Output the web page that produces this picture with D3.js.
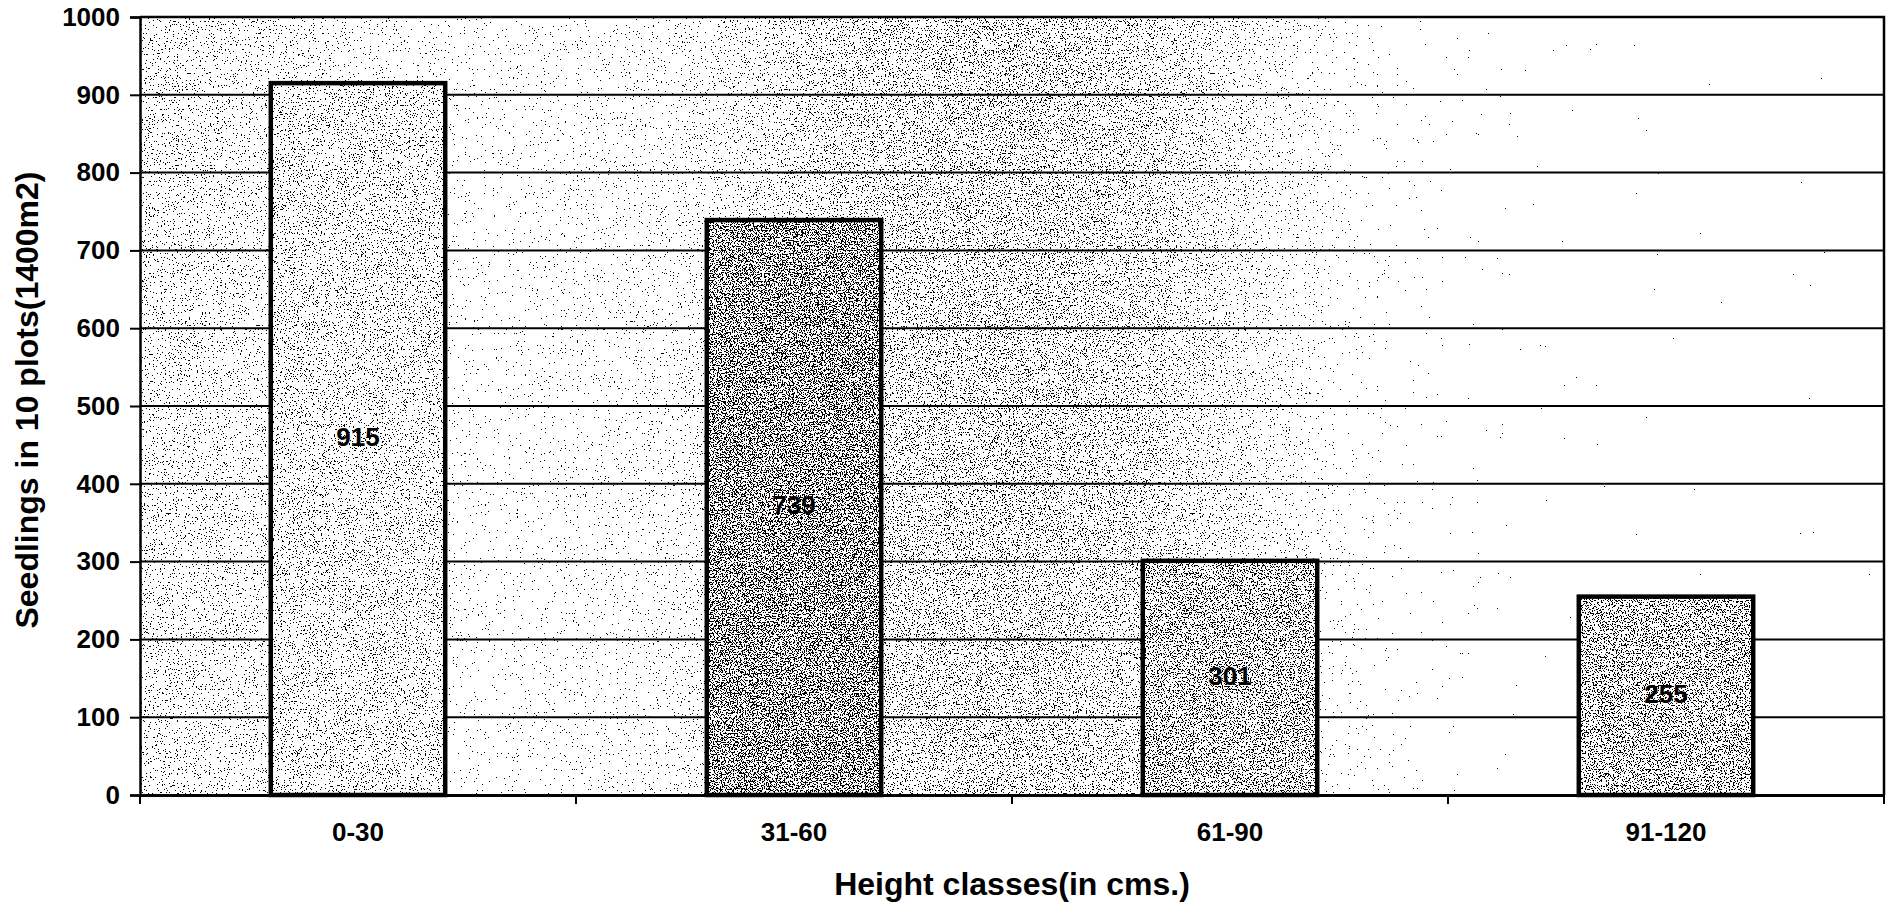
<!DOCTYPE html>
<html>
<head>
<meta charset="utf-8">
<script src="https://cdn.jsdelivr.net/npm/d3@7"></script>
<style>
  body { margin: 0; background: #fff; }
  svg text { font-family: "Liberation Sans", Arial, sans-serif; font-weight: bold; fill: #000; }
</style>
</head>
<body>
<div id="chart"></div>
<script>
// data
var categories = ["0-30", "31-60", "61-90", "91-120"];
var seedlings = [915, 739, 301, 255];
var yTicks = [0, 100, 200, 300, 400, 500, 600, 700, 800, 900, 1000];
var yTitle = "Seedlings in 10 plots(1400m2)";
var xTitle = "Height classes(in cms.)";

// stipple density per bar (style only)
var barShade = [0.35, 0.47, 0.42, 0.42];

var width = 1890, height = 904;
var plot = {left: 140, right: 1884, top: 17, bottom: 795};

var svg = d3.select("#chart").append("svg")
    .attr("width", width)
    .attr("height", height);

var defs = svg.append("defs");

// stipple filter: noise + source alpha, thresholded into black dots
var f = defs.append("filter")
    .attr("id", "stipple")
    .attr("x", 0).attr("y", 0).attr("width", 1).attr("height", 1)
    .attr("color-interpolation-filters", "sRGB");
f.append("feTurbulence")
    .attr("type", "fractalNoise")
    .attr("baseFrequency", 0.75)
    .attr("numOctaves", 2)
    .attr("seed", 7)
    .attr("result", "noise");
f.append("feColorMatrix")
    .attr("in", "noise")
    .attr("type", "matrix")
    .attr("values", "0 0 0 0 0  0 0 0 0 0  0 0 0 0 0  1 0 0 0 0")
    .attr("result", "na");
f.append("feComposite")
    .attr("in", "na")
    .attr("in2", "SourceAlpha")
    .attr("operator", "arithmetic")
    .attr("k1", 0).attr("k2", 1).attr("k3", 1).attr("k4", -0.5)
    .attr("result", "sum");
var ct = f.append("feComponentTransfer").attr("in", "sum").attr("result", "dots");
ct.append("feFuncA").attr("type", "discrete").attr("tableValues", "0 1");
f.append("feColorMatrix")
    .attr("in", "dots")
    .attr("type", "matrix")
    .attr("values", "0 0 0 0 0  0 0 0 0 0  0 0 0 0 0  0 0 0 1 0");

// background density, heavier on the left and middle, sparse on the right
var bg = defs.append("linearGradient").attr("id", "bgDensity")
    .attr("x1", 0).attr("x2", 1).attr("y1", 0).attr("y2", 0);
[[0, 0.33], [0.1, 0.31], [0.2, 0.26], [0.3, 0.29], [0.4, 0.36], [0.5, 0.38],
 [0.58, 0.36], [0.66, 0.29], [0.72, 0.21], [0.8, 0.15], [1, 0.12]].forEach(function(s){
    bg.append("stop").attr("offset", s[0]).attr("stop-color", "#000").attr("stop-opacity", s[1]);
});

var x = d3.scaleBand()
    .domain(categories)
    .range([plot.left, plot.right])
    .paddingInner(0.6)
    .paddingOuter(0.3);

var y = d3.scaleLinear()
    .domain([0, 1000])
    .range([plot.bottom, plot.top]);

// plot background
svg.append("rect")
    .attr("x", plot.left).attr("y", plot.top)
    .attr("width", plot.right - plot.left).attr("height", plot.bottom - plot.top)
    .attr("fill", "#fff");
svg.append("rect")
    .attr("x", plot.left).attr("y", plot.top)
    .attr("width", plot.right - plot.left).attr("height", plot.bottom - plot.top)
    .attr("fill", "url(#bgDensity)")
    .attr("filter", "url(#stipple)");

// gridlines
svg.append("g")
    .selectAll("line")
    .data(yTicks.filter(function(d){ return d > 0 && d < 1000; }))
    .join("line")
    .attr("x1", plot.left).attr("x2", plot.right)
    .attr("y1", function(d){ return y(d); })
    .attr("y2", function(d){ return y(d); })
    .attr("stroke", "#000")
    .attr("stroke-width", 2);

// plot frame (top and right)
svg.append("path")
    .attr("d", "M" + plot.left + "," + y(1000) + "H" + plot.right + "V" + plot.bottom)
    .attr("fill", "none")
    .attr("stroke", "#000")
    .attr("stroke-width", 2.5);

// bars
var bars = svg.append("g").selectAll("g")
    .data(seedlings)
    .join("g");

bars.append("rect")
    .attr("x", function(d, i){ return x(categories[i]); })
    .attr("y", function(d){ return y(d); })
    .attr("width", x.bandwidth())
    .attr("height", function(d){ return y(0) - y(d); })
    .attr("fill", "#fff");

bars.append("rect")
    .attr("x", function(d, i){ return x(categories[i]); })
    .attr("y", function(d){ return y(d); })
    .attr("width", x.bandwidth())
    .attr("height", function(d){ return y(0) - y(d); })
    .attr("fill", "#000")
    .attr("fill-opacity", function(d, i){ return barShade[i]; })
    .attr("filter", "url(#stipple)");

bars.append("rect")
    .attr("x", function(d, i){ return x(categories[i]); })
    .attr("y", function(d){ return y(d); })
    .attr("width", x.bandwidth())
    .attr("height", function(d){ return y(0) - y(d); })
    .attr("fill", "none")
    .attr("stroke", "#000")
    .attr("stroke-width", 4.5);

bars.append("text")
    .attr("x", function(d, i){ return x(categories[i]) + x.bandwidth() / 2; })
    .attr("y", function(d){ return (y(d) + y(0)) / 2; })
    .attr("text-anchor", "middle")
    .attr("dominant-baseline", "middle")
    .style("font-size", "26px")
    .text(function(d){ return d; });

// y axis
var yAxis = svg.append("g")
    .attr("transform", "translate(" + plot.left + ",0)")
    .call(d3.axisLeft(y).tickValues(yTicks).tickFormat(d3.format("d")).tickSize(10).tickPadding(10));
yAxis.select(".domain").attr("stroke", "#000").attr("stroke-width", 2.5);
yAxis.selectAll(".tick line").attr("stroke", "#000").attr("stroke-width", 2);
yAxis.selectAll("text").style("font-size", "26px").attr("font-family", null);

// x axis
var xAxis = svg.append("g")
    .attr("transform", "translate(0," + plot.bottom + ")")
    .call(d3.axisBottom(x).tickSize(0).tickPadding(28));
xAxis.select(".domain").attr("stroke", "#000").attr("stroke-width", 3);
xAxis.selectAll("text").style("font-size", "26px").attr("font-family", null);

// category boundary ticks
var step = x.step();
var bounds = categories.map(function(c){ return x(c) - step * x.paddingInner() / 2; });
bounds.push(plot.right);
xAxis.selectAll(".bound")
    .data(bounds)
    .join("line")
    .attr("class", "bound")
    .attr("x1", function(d){ return d; }).attr("x2", function(d){ return d; })
    .attr("y1", 0).attr("y2", 9)
    .attr("stroke", "#000")
    .attr("stroke-width", 2);

// titles
svg.append("text")
    .attr("transform", "translate(38," + 400 + ") rotate(-90)")
    .attr("text-anchor", "middle")
    .style("font-size", "32px")
    .text(yTitle);

svg.append("text")
    .attr("x", (plot.left + plot.right) / 2)
    .attr("y", 895)
    .attr("text-anchor", "middle")
    .style("font-size", "32px")
    .text(xTitle);
</script>
</body>
</html>
